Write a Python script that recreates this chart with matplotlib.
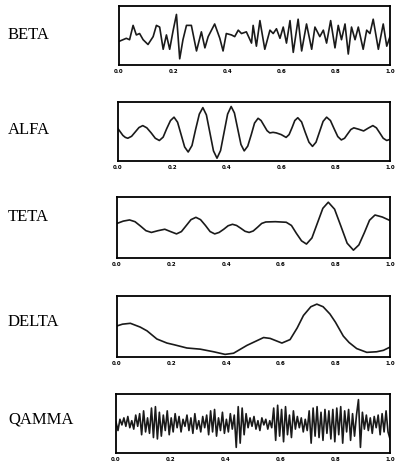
import numpy as np
import matplotlib
matplotlib.use("Agg")
import matplotlib.pyplot as plt

# band names shown on the left
bands = ["BETA", "ALFA", "TETA", "DELTA", "QAMMA"]
tick_vals = [0.0, 0.2, 0.4, 0.6, 0.8, 1.0]
tick_labels = ["0.0", "0.2", "0.4", "0.6", "0.8", "1.0"]

# BETA (time, amplitude)
beta_t = [0.000, 0.027, 0.039, 0.052, 0.064, 0.076, 0.089, 0.107, 0.126, 0.138,
          0.150, 0.163, 0.175, 0.187, 0.200, 0.212, 0.224, 0.236, 0.249, 0.267,
          0.286, 0.304, 0.317, 0.329, 0.353, 0.372, 0.384, 0.396, 0.415, 0.427,
          0.440, 0.452, 0.470, 0.489, 0.495, 0.507, 0.520, 0.538, 0.557, 0.569,
          0.581, 0.594, 0.606, 0.618, 0.631, 0.643, 0.661, 0.674, 0.692, 0.711,
          0.723, 0.741, 0.754, 0.766, 0.781, 0.797, 0.809, 0.821, 0.834, 0.846,
          0.858, 0.871, 0.883, 0.901, 0.914, 0.926, 0.938, 0.957, 0.975, 0.988, 1.000]
beta_v = [-0.21, -0.10, -0.15, 0.36, 0.02, 0.07, -0.15, -0.32, -0.04, 0.36,
          0.30, -0.49, 0.02, -0.49, 0.19, 0.75, -0.83, -0.15, 0.36, 0.36,
          -0.55, 0.13, -0.44, -0.04, 0.41, -0.10, -0.55, 0.07, 0.02, -0.04,
          0.19, 0.07, 0.13, -0.27, 0.36, -0.38, 0.53, -0.49, 0.19, 0.07,
          0.24, -0.10, 0.30, -0.27, 0.53, -0.60, 0.58, -0.55, 0.41, -0.49,
          0.30, -0.04, 0.19, -0.27, 0.53, -0.44, 0.36, -0.15, 0.41, -0.66,
          0.30, -0.15, 0.30, -0.49, 0.19, 0.07, 0.58, -0.49, 0.41, -0.38, -0.04]

# ALFA
alfa_t = [0.000, 0.018, 0.027, 0.036, 0.050, 0.064, 0.077, 0.091, 0.106, 0.122,
          0.137, 0.152, 0.166, 0.179, 0.193, 0.206, 0.219, 0.232, 0.245, 0.258,
          0.272, 0.285, 0.299, 0.312, 0.325, 0.338, 0.351, 0.364, 0.377, 0.390,
          0.403, 0.416, 0.428, 0.440, 0.452, 0.464, 0.477, 0.490, 0.502, 0.515,
          0.526, 0.537, 0.548, 0.558, 0.570, 0.582, 0.600, 0.618, 0.629, 0.640,
          0.650, 0.661, 0.675, 0.688, 0.702, 0.715, 0.728, 0.741, 0.754, 0.767,
          0.781, 0.794, 0.808, 0.821, 0.833, 0.844, 0.856, 0.867, 0.885, 0.903,
          0.920, 0.937, 0.950, 0.963, 0.975, 0.988, 1.000]
alfa_v = [0.10, -0.14, -0.21, -0.24, -0.17, -0.01, 0.14, 0.21, 0.13, -0.05,
          -0.24, -0.32, -0.20, 0.10, 0.39, 0.51, 0.33, -0.11, -0.55, -0.73,
          -0.50, 0.06, 0.62, 0.85, 0.59, -0.05, -0.69, -0.95, -0.68, -0.03,
          0.62, 0.89, 0.66, 0.10, -0.46, -0.69, -0.52, -0.11, 0.30, 0.47,
          0.39, 0.21, 0.03, -0.05, -0.03, -0.05, -0.11, -0.21, -0.11, 0.14,
          0.39, 0.49, 0.34, -0.02, -0.38, -0.53, -0.38, -0.01, 0.36, 0.51,
          0.39, 0.11, -0.18, -0.30, -0.24, -0.09, 0.07, 0.13, 0.08, 0.02,
          0.12, 0.21, 0.13, -0.06, -0.24, -0.32, -0.28]

# TETA
teta_t = [0.000, 0.023, 0.046, 0.066, 0.086, 0.106, 0.126, 0.150, 0.175, 0.196,
          0.218, 0.236, 0.254, 0.271, 0.289, 0.306, 0.324, 0.341, 0.358, 0.374,
          0.391, 0.407, 0.423, 0.438, 0.454, 0.469, 0.484, 0.499, 0.515, 0.530,
          0.545, 0.580, 0.620, 0.639, 0.657, 0.676, 0.694, 0.714, 0.734, 0.754,
          0.774, 0.797, 0.820, 0.843, 0.866, 0.886, 0.906, 0.925, 0.945, 0.972, 1.000]
teta_v = [0.14, 0.22, 0.26, 0.20, 0.05, -0.11, -0.17, -0.11, -0.06, -0.14,
          -0.22, -0.14, 0.07, 0.27, 0.35, 0.27, 0.07, -0.14, -0.22, -0.17,
          -0.06, 0.06, 0.11, 0.07, -0.03, -0.13, -0.17, -0.12, 0.01, 0.14,
          0.19, 0.20, 0.18, 0.07, -0.20, -0.46, -0.57, -0.36, 0.15, 0.66,
          0.87, 0.63, 0.05, -0.54, -0.78, -0.60, -0.18, 0.25, 0.43, 0.36, 0.24]

# DELTA
delta_t = [0.000, 0.020, 0.049, 0.085, 0.110, 0.146, 0.183, 0.210, 0.256, 0.305,
           0.354, 0.396, 0.427, 0.476, 0.537, 0.561, 0.604, 0.634, 0.660, 0.683,
           0.710, 0.732, 0.755, 0.780, 0.800, 0.829, 0.850, 0.878, 0.915, 0.951,
           0.976, 1.000]
delta_v = [0.02, 0.08, 0.11, -0.02, -0.15, -0.43, -0.57, -0.63, -0.74, -0.78,
           -0.87, -0.96, -0.92, -0.65, -0.38, -0.41, -0.57, -0.45, -0.05, 0.38,
           0.68, 0.77, 0.68, 0.43, 0.15, -0.33, -0.55, -0.76, -0.89, -0.87,
           -0.82, -0.71]

# QAMMA - dense noise, 140 samples across the second
qamma_v = [0.05, -0.25, 0.15, -0.05, 0.20, -0.10, 0.25, -0.15, 0.10, -0.20, 0.30, -0.10,
           0.35, -0.40, 0.45, -0.30, 0.20, -0.35, 0.55, -0.50, 0.60, -0.55, 0.40, -0.45,
           0.30, -0.25, 0.45, -0.40,
           0.20, -0.30, 0.35, -0.15, 0.25, -0.30, 0.15, -0.10, 0.30, -0.25, 0.20, -0.35,
           0.35, -0.20, 0.10, -0.30, 0.25, -0.15, 0.30,
           -0.40, 0.45, -0.30, 0.50, -0.45, 0.20, -0.25, 0.40, -0.35, 0.15, -0.30, 0.35, -0.20,
           0.30, -0.85, 0.60, -0.70, 0.55, -0.40, 0.35,
           -0.15, 0.20, -0.10, 0.25, -0.20, 0.10, -0.25, 0.20, -0.05, 0.15, -0.20, 0.10, -0.15,
           0.55, -0.60, 0.65, -0.45, 0.50, -0.65, 0.60, -0.40, 0.30, -0.50, 0.45,
           -0.20, 0.25, -0.15, 0.20, -0.30, 0.15, -0.25,
           0.45, -0.70, 0.55, -0.45, 0.60, -0.50, 0.40, -0.60, 0.50, -0.35, 0.45,
           -0.55, 0.50, -0.65, 0.55, -0.40, 0.60, -0.70, 0.45, -0.30, 0.50, -0.60, 0.35,
           -0.45, 0.30,
           0.85, -0.85, 0.40,
           -0.20, 0.30, -0.25, 0.20, -0.35, 0.25, -0.15, 0.30, -0.40, 0.35, -0.30, 0.45,
           -0.30, -0.55]
qamma_t = np.linspace(0, 1, len(qamma_v))

series = [(beta_t, beta_v), (alfa_t, alfa_v), (teta_t, teta_v),
          (delta_t, delta_v), (qamma_t, qamma_v)]

W, H = 396, 466
fig = plt.figure(figsize=(W / 100, H / 100), dpi=100)

# box positions in pixels: left, top, bottom
boxes = [(119, 6, 65), (118, 102, 161), (117, 197, 258), (117, 296, 357), (116, 394, 453)]
label_y = [35, 130, 217, 322, 420]
right = 390

for i, (name, (t, v)) in enumerate(zip(bands, series)):
    l, top, bot = boxes[i]
    ax = fig.add_axes([l / W, 1 - bot / H, (right - l) / W, (bot - top) / H])
    ax.plot(t, v, color="#1a1a1a", linewidth=1.2)
    ax.set_xlim(0, 1)
    ax.set_ylim(-1.05, 1.05)
    ax.set_yticks([])
    ax.set_xticks(tick_vals)
    ax.set_xticklabels(tick_labels, fontsize=4, fontweight="bold")
    ax.tick_params(axis="x", length=0, pad=3)
    for s in ax.spines.values():
        s.set_linewidth(1.3)
    fig.text(8 / W, 1 - label_y[i] / H, name, fontsize=12,
             family="Liberation Serif", va="center", ha="left")

plt.savefig("out.png", dpi=100)
